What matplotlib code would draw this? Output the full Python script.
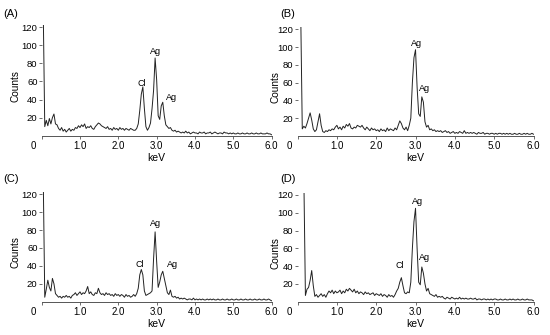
import numpy as np
import matplotlib
matplotlib.use('Agg')
import matplotlib.pyplot as plt

plt.rcParams['font.family'] = ['Liberation Sans', 'DejaVu Sans']

nan = np.nan
# energy grid: 0.04 keV steps, 0.04 .. 6.00
energy = np.round(np.arange(1, 151) * 0.04, 2)

counts_a = [140, 10, 17, 11, 19, 13, 20, 24, 13, 12,
            8, 6, 9, 5, 7, 4, 6, 8, 5, 7,
            6, 9, 8, 11, 9, 12, 10, 13, 8, 10,
            9, 11, 8, 7, 10, 12, 14, 13, 11, 10,
            9, 8, 10, 7, 8, 6, 9, 7, 8, 6,
            9, 7, 8, 6, 8, 7, 6, 8, 7, 6,
            6, 8, 13, 28, 46, 54, 30, 10, 6, 9,
            14, 30, 50, 86, 62, 22, 18, 33, 37, 22,
            12, 10, 8, 9, 6, 5, 6, 4, 5, 4,
            3, 4, 3, 5, 3, 4, 2, 3, 4, 3,
            3, 2, 4, 3, 3, 4, 2, 3, 3, 4,
            2, 3, 4, 3, 2, 3, 3, 2, 4, 3,
            3, 2, 3, 2, 3, 2, 2, 3, 2, 2,
            3, 2, 2, 3, 2, 2, 3, 2, 2, 3,
            2, 2, 3, 2, 2, 2, 3, 2, 2, 1]

counts_b = [nan, 140, 8, 11, 9, 14, 20, 26, 18, 8,
            5, 7, 16, 25, 12, 5, 4, 6, 5, 7,
            6, 8, 7, 10, 12, 8, 10, 7, 11, 9,
            13, 11, 14, 9, 8, 10, 9, 12, 11, 10,
            12, 9, 7, 10, 8, 6, 9, 7, 8, 6,
            7, 5, 8, 6, 7, 5, 9, 6, 8, 7,
            6, 9, 7, 12, 17, 14, 9, 7, 10, 6,
            12, 20, 60, 88, 97, 55, 25, 22, 44, 38,
            16, 10, 12, 7, 8, 6, 7, 5, 6, 5,
            6, 4, 5, 6, 4, 5, 3, 4, 5, 3,
            4, 3, 5, 4, 3, 6, 3, 4, 3, 4,
            3, 4, 3, 2, 4, 3, 3, 4, 2, 3,
            3, 2, 3, 3, 2, 3, 2, 3, 3, 2,
            3, 2, 3, 2, 3, 2, 2, 3, 2, 2,
            3, 2, 2, 3, 2, 3, 2, 2, 3, 2]

counts_c = [140, 5, 14, 24, 16, 12, 26, 20, 9, 7,
            5, 6, 4, 6, 5, 7, 5, 6, 4, 7,
            8, 10, 7, 9, 11, 8, 10, 9, 12, 17,
            9, 11, 8, 7, 10, 9, 15, 10, 8, 9,
            7, 10, 8, 9, 7, 8, 6, 9, 7, 8,
            6, 8, 7, 5, 8, 6, 7, 5, 6, 8,
            6, 9, 15, 30, 36, 30, 12, 7, 8, 9,
            10, 12, 48, 78, 45, 16, 22, 30, 34, 26,
            18, 10, 8, 13, 6, 5, 6, 4, 5, 3,
            4, 3, 4, 3, 2, 3, 3, 2, 4, 2,
            3, 2, 3, 2, 3, 2, 2, 3, 2, 3,
            2, 3, 2, 2, 3, 2, 2, 3, 2, 2,
            3, 2, 2, 3, 2, 2, 3, 2, 2, 3,
            2, 2, 3, 2, 2, 3, 2, 2, 3, 2,
            2, 3, 2, 2, 3, 2, 2, 3, 2, 1]

counts_d = [nan, nan, nan, 140, 7, 14, 16, 24, 35, 18,
            6, 8, 5, 7, 9, 6, 8, 5, 9, 12,
            10, 13, 9, 12, 10, 11, 13, 9, 12, 10,
            14, 12, 15, 13, 11, 14, 10, 12, 9, 11,
            10, 8, 11, 9, 10, 8, 9, 10, 7, 9,
            8, 7, 9, 6, 8, 7, 5, 8, 6, 7,
            5, 8, 12, 15, 22, 27, 18, 10, 9, 11,
            10, 22, 60, 90, 105, 60, 22, 19, 39, 32,
            20, 12, 15, 9, 8, 7, 6, 8, 5, 6,
            5, 6, 4, 3, 5, 4, 3, 5, 4, 3,
            4, 3, 5, 3, 4, 3, 4, 3, 3, 4,
            3, 3, 4, 2, 3, 3, 2, 3, 3, 2,
            3, 2, 3, 2, 3, 3, 2, 2, 3, 2,
            2, 3, 2, 2, 3, 2, 3, 2, 2, 3,
            2, 2, 3, 2, 2, 3, 2, 2, 2, 1]

# peak labels: (text, keV, counts)
peaks_a = [('Cl', 2.60, 58), ('Ag', 2.96, 93), ('Ag', 3.40, 42)]
peaks_b = [('Ag', 3.02, 104), ('Ag', 3.23, 53)]
peaks_c = [('Cl', 2.57, 42), ('Ag', 2.96, 87), ('Ag', 3.42, 42)]
peaks_d = [('Cl', 2.60, 41), ('Ag', 3.05, 113), ('Ag', 3.24, 50)]

panel_names = ['(A)', '(B)', '(C)', '(D)']
xtick_vals = [0, 1, 2, 3, 4, 5, 6]
xtick_text = ['', '1.0', '2.0', '3.0', '4.0', '5.0', '6.0']
ytick_vals = [20, 40, 60, 80, 100, 120]

fig = plt.figure(figsize=(5.5, 3.35), dpi=100)
boxes = [[0.0758, 0.595, 0.418, 0.329],
         [0.541, 0.594, 0.429, 0.324],
         [0.0758, 0.0994, 0.418, 0.326],
         [0.541, 0.0994, 0.429, 0.324]]
all_counts = [counts_a, counts_b, counts_c, counts_d]
all_peaks = [peaks_a, peaks_b, peaks_c, peaks_d]
ylab_x = [-0.09, -0.072, -0.09, -0.072]
name_xy = [(3, 14), (280, 14), (3, 179), (280, 179)]  # pixels from top-left

for i in range(4):
    ax = fig.add_axes(boxes[i])
    ax.plot(energy, all_counts[i], color='#222222', lw=0.7)
    ax.set_xlim(0, 6)
    ax.set_ylim(0, 122)
    for s in ['top', 'right', 'left']:
        ax.spines[s].set_visible(False)
    ax.spines['bottom'].set_color('#555555')
    ax.spines['bottom'].set_linewidth(0.7)
    ax.set_xticks(xtick_vals)
    ax.set_xticklabels(xtick_text)
    ax.set_yticks(ytick_vals)
    ax.tick_params(axis='both', labelsize=7, length=2, width=0.6,
                   color='#555555', pad=1.5)
    ax.tick_params(axis='y', labelsize=6.8, pad=1)
    ax.annotate('0', xy=(0, 0), xycoords=('data', 'axes fraction'),
                xytext=(-8, -5), textcoords='offset pixels',
                ha='center', va='top', fontsize=7)
    ax.set_xlabel('keV', fontsize=7.5, labelpad=1.5)
    ax.set_ylabel('Counts', fontsize=7.2)
    ax.yaxis.set_label_coords(ylab_x[i], 0.45)
    for name, e, c in all_peaks[i]:
        ax.text(e, c, name, fontsize=6.5, ha='center', va='center')
    px, py = name_xy[i]
    fig.text(px / 550, 1 - py / 335, panel_names[i], fontsize=8,
             ha='left', va='center')

fig.savefig('out.png', dpi=100)
